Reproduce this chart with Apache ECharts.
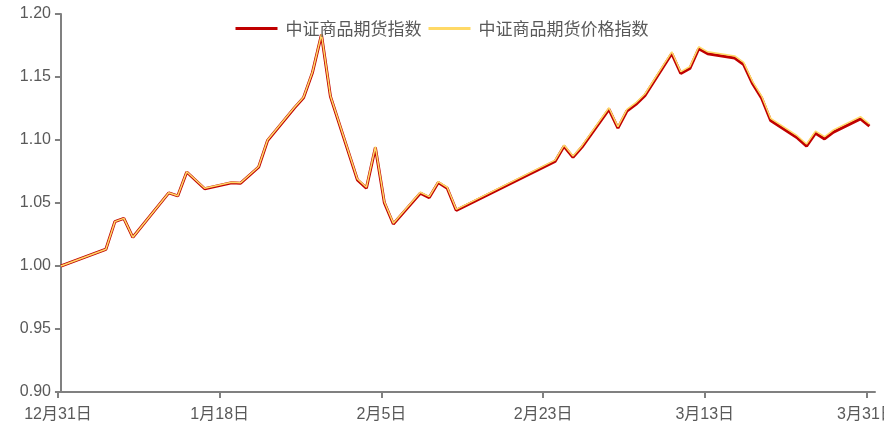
<!DOCTYPE html>
<html>
<head>
<meta charset="utf-8">
<title>中证商品期货指数</title>
<script src="https://cdn.jsdelivr.net/npm/echarts@6/dist/echarts.min.js"></script>
<style>
  html, body { margin: 0; padding: 0; background: #fff; }
  #chart { width: 884px; height: 436px; }
</style>
</head>
<body>
<div id="chart"></div>
<script>
  // days counted from 12月31日
  const days = [0, 5, 6, 7, 8, 12, 13, 14, 16, 19, 20, 22, 23, 26, 27, 28, 29, 30, 33, 34, 35, 36, 37,
    40, 41, 42, 43, 44, 55, 56, 57, 58, 61, 62, 63, 64, 65, 68, 69, 70, 71, 72, 75, 76, 77, 78, 79,
    82, 83, 84, 85, 86, 89, 90];

  // 中证商品期货指数
  const indexValues = [1.000, 1.0133, 1.0352, 1.0378, 1.0228, 1.0580, 1.0556, 1.0746, 1.0613, 1.0660,
    1.0657, 1.0784, 1.0996, 1.1256, 1.1336, 1.1536, 1.1836, 1.1345, 1.0684, 1.0618, 1.0940, 1.0503,
    1.0333, 1.0578, 1.0543, 1.0662, 1.0617, 1.0442, 1.0830, 1.0950, 1.0862, 1.0944, 1.1244, 1.1094,
    1.1230, 1.1283, 1.1352, 1.1686, 1.1528, 1.1567, 1.1725, 1.1685, 1.1650, 1.1599, 1.1446, 1.1332,
    1.1155, 1.1015, 1.0951, 1.1054, 1.1009, 1.1063, 1.1168, 1.1110];

  // 中证商品期货价格指数
  const priceValues = [1.000, 1.0133, 1.0352, 1.0378, 1.0228, 1.0582, 1.0558, 1.0748, 1.0617, 1.0664,
    1.0661, 1.0788, 1.1000, 1.1260, 1.1340, 1.1540, 1.1840, 1.1350, 1.0690, 1.0625, 1.0947, 1.0510,
    1.0340, 1.0585, 1.0550, 1.0670, 1.0625, 1.0450, 1.0840, 1.0960, 1.0873, 1.0955, 1.1256, 1.1106,
    1.1243, 1.1296, 1.1365, 1.1700, 1.1542, 1.1582, 1.1740, 1.1700, 1.1667, 1.1616, 1.1463, 1.1349,
    1.1172, 1.1032, 1.0968, 1.1071, 1.1026, 1.1080, 1.1185, 1.1127];

  const tickDays = [0, 18, 36, 54, 72, 90];
  const tickLabels = ['12月31日', '1月18日', '2月5日', '2月23日', '3月13日', '3月31日'];

  // the source puts its ticks a third of a day before the points
  const tickShift = 0.33;
  const tickValues = tickDays.map(d => d - tickShift);

  const chart = echarts.init(document.getElementById('chart'));

  const labelFont = 'Liberation Sans, Arial, Noto Sans CJK SC, sans-serif';

  chart.setOption({
    animation: false,
    legend: {
      top: 15,
      left: 'center',
      icon: 'rect',
      itemWidth: 42,
      itemHeight: 3,
      itemGap: 7,
      textStyle: {
        color: '#595959',
        fontSize: 17,
        fontFamily: 'Noto Sans CJK SC, sans-serif',
        padding: [0, 0, 0, 3]
      },
      data: ['中证商品期货指数', '中证商品期货价格指数']
    },
    grid: {
      left: 58,
      right: 9,
      top: 14,
      bottom: 44,
      outerBoundsMode: 'none'
    },
    xAxis: {
      type: 'value',
      min: -tickShift,
      max: 90.62,
      axisLine: { show: true, lineStyle: { color: '#808080', width: 2 } },
      axisTick: {
        show: true,
        length: 6,
        customValues: tickValues,
        lineStyle: { color: '#808080', width: 2 }
      },
      axisLabel: {
        customValues: tickValues,
        margin: 15,
        color: '#595959',
        fontSize: 16,
        fontFamily: labelFont,
        formatter: function (v) {
          const i = tickValues.findIndex(t => Math.abs(t - v) < 0.01);
          return i >= 0 ? tickLabels[i] : '';
        }
      },
      splitLine: { show: false }
    },
    yAxis: {
      type: 'value',
      min: 0.9,
      max: 1.2,
      interval: 0.05,
      axisLine: { show: true, lineStyle: { color: '#808080', width: 2 } },
      axisTick: { show: true, length: 6, lineStyle: { color: '#808080', width: 2 } },
      axisLabel: {
        margin: 7,
        color: '#595959',
        fontSize: 16,
        fontFamily: labelFont,
        formatter: v => v.toFixed(2)
      },
      splitLine: { show: false }
    },
    series: [
      {
        name: '中证商品期货指数',
        type: 'line',
        symbol: 'none',
        z: 2,
        itemStyle: { color: '#C00000' },
        lineStyle: { color: '#C00000', width: 3 },
        data: days.map((d, i) => [d, indexValues[i]])
      },
      {
        name: '中证商品期货价格指数',
        type: 'line',
        symbol: 'none',
        z: 3,
        itemStyle: { color: '#FFD966' },
        lineStyle: { color: '#FFD966', width: 1.5 },
        data: days.map((d, i) => [d, priceValues[i]])
      }
    ]
  });
</script>
</body>
</html>
